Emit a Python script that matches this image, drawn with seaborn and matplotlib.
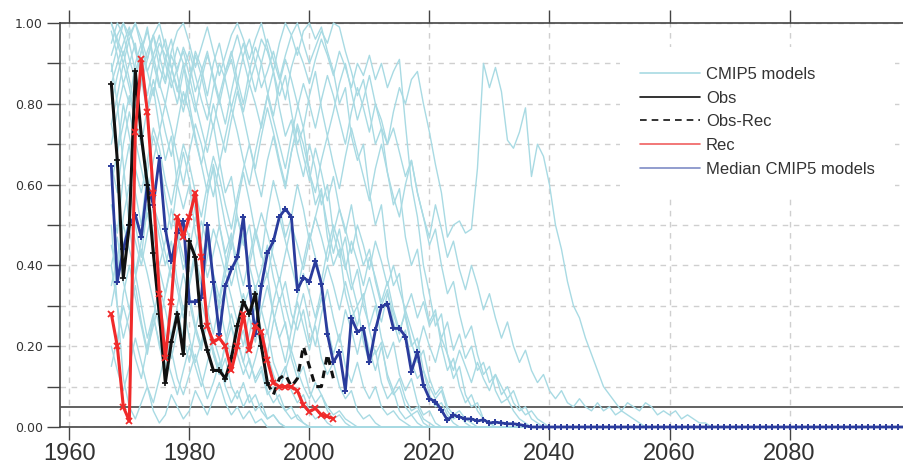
import numpy as np
import pandas as pd
import matplotlib
matplotlib.use("Agg")
import matplotlib.pyplot as plt
import seaborn as sns
from matplotlib.lines import Line2D
from matplotlib.ticker import MultipleLocator, FormatStrFormatter

# ---------------- data ----------------
model_start = 1967
model_end = 2100

m01 = [.92, .97, 1.0, .95, .88, .93, .99, .90, .84, .91, .96, .87, .80,
       .86, .93, .89, .82, .90, .95, .88, .92, .97, .91,
       .85, .90, .96, .93, .88, .95, 1.0, .97, .92, .98,
       1.0, .96, .99, .93, .88, .80, .84, .72, .66, .70,
       .58, .50, .55, .42, .35, .38, .27, .20, .22, .14,
       .10, .07, .09, .04, .02, .03, .01]
m02 = [1.0, .96, .92, .98, .94, .87, .93, .97, .89, .85, .92, .88, .94,
       .90, .83, .88, .93, .86, .80, .87, .91, .84, .78,
       .85, .80, .74, .82, .88, .79, .72, .76, .68, .62,
       .70, .64, .55, .60, .48, .42, .47, .36, .30, .33,
       .24, .18, .21, .12, .08, .10, .05, .03, .04, .01]
m03 = [.85, .90, .95, .99, .93, .88, .82, .90, .95, .92, .86, .80, .88,
       .93, .87, .81, .76, .84, .90, .86, .79, .85, .92,
       .96, .90, .84, .88, .93, .87, .81, .89, .94, .90,
       .85, .91, .96, .92, .87, .93, .89, .84, .90, .87,
       .92, .86, .90, .84, .88, .91, .75, .60, .52, .40,
       .33, .25, .28, .18, .12, .15, .08, .05, .06, .02, .01]
m04 = [.70, .78, .85, .80, .90, .95, .88, .82, .91, .96, .89, .84, .78,
       .85, .92, .87, .80, .74, .82, .88, .93, .86, .80,
       .88, .94, .90, .83, .77, .85, .91, .86, .80, .74,
       .82, .88, .79, .72, .78, .85, .90, .83, .76, .81,
       .87, .80, .74, .70, .78, .84, .80, .86, .88, .80,
       .73, .65, .58, .47, .50, .51, .48, .49, .64, .90,
       .84, .89, .83, .71, .69, .73, .79, .62, .70, .67,
       .60, .50, .44, .36, .30, .27, .22, .18, .14, .10,
       .08, .06, .04, .03, .02, .01]
m05 = [.60, .68, .75, .82, .76, .70, .79, .86, .80, .73, .67, .75, .83,
       .78, .71, .65, .72, .80, .74, .68, .76, .83, .77,
       .70, .64, .72, .79, .73, .66, .60, .68, .75, .70,
       .63, .58, .66, .72, .65, .59, .67, .74, .68, .62,
       .56, .64, .70, .63, .57, .52, .60, .66, .58, .52,
       .47, .55, .49, .42, .46, .39, .34, .40, .35, .29,
       .33, .27, .22, .26, .20, .16, .19, .14, .11, .13,
       .09, .07, .09, .06, .05, .07, .05, .04, .06, .04,
       .05, .03, .04, .06, .05, .04, .06, .05, .03, .04,
       .03, .04, .02, .03, .02, .01, .01]
m06 = [.95, 1.0, .97, .91, .86, .93, .98, .92, .85, .80, .88, .94, .90,
       .84, .78, .86, .92, .87, .81, .75, .83, .90, .95,
       .89, .83, .90, .96, .91, .86, .92, .97, 1.0, .95,
       .90, .94, .98, .95, 1.0, .99, .93, .88, .82, .86,
       .78, .70, .74, .63, .55, .59, .47, .40, .44, .33,
       .26, .29, .20, .14, .17, .10, .06, .08, .04, .02, .01]
m07 = [1.0, .95, .90, .96, 1.0, .94, .88, .92, .97, .90, .84, .89, .93,
       .87, .80, .74, .68, .75, .66, .58, .62, .52, .45,
       .50, .40, .34, .38, .28, .22, .26, .17, .12, .15,
       .09, .06, .08, .04, .02, .03, .01]
m08 = [.98, .92, .85, .90, .95, .86, .78, .84, .74, .66, .72, .60, .54,
       .60, .48, .42, .47, .36, .30, .34, .25, .20, .24,
       .16, .12, .15, .09, .06, .08, .04, .02, .03, .01]
m09 = [.55, .48, .62, .70, .58, .50, .63, .72, .66, .57, .49, .60, .68,
       .61, .53, .46, .57, .65, .58, .50, .44, .55, .63,
       .56, .48, .42, .53, .61, .55, .47, .52, .60, .54,
       .46, .52, .58, .50, .43, .49, .40, .34, .39, .30,
       .25, .30, .22, .17, .21, .13, .09, .12, .06, .03,
       .04, .01]
m10 = [.45, .38, .52, .60, .50, .42, .55, .48, .40, .46, .54, .47, .39,
       .44, .52, .45, .37, .43, .50, .42, .35, .41, .48,
       .40, .34, .39, .45, .37, .31, .36, .28, .24, .29,
       .21, .25, .17, .13, .16, .10, .07, .09, .04, .02,
       .03, .01]
m11 = [.35, .42, .50, .44, .38, .46, .53, .45, .39, .33, .41, .48, .42,
       .36, .44, .51, .45, .38, .32, .40, .47, .41, .35,
       .42, .49, .43, .37, .45, .52, .46, .40, .34, .41,
       .48, .42, .36, .44, .50, .45, .39, .46, .41, .35,
       .42, .37, .31, .36, .29, .24, .28, .21, .16, .19,
       .12, .08, .10, .05, .03, .04, .02, .01]
m12 = [.75, .68, .80, .72, .64, .58, .66, .74, .69, .61, .55, .63, .70,
       .65, .58, .52, .60, .67, .62, .55, .49, .57, .64,
       .70, .63, .57, .66, .72, .65, .59, .68, .74, .67,
       .61, .69, .63, .56, .62, .54, .48, .55, .46, .40,
       .44, .36, .30, .34, .26, .21, .24, .16, .12, .14,
       .08, .05, .06, .03, .01]
m13 = [.30, .38, .45, .52, .46, .40, .48, .55, .50, .43, .37, .44, .51,
       .47, .40, .35, .42, .49, .44, .38, .45, .52, .46,
       .40, .47, .53, .48, .42, .36, .43, .50, .45, .39,
       .46, .52, .47, .41, .48, .54, .49, .43, .50, .45,
       .39, .46, .41, .35, .40, .34, .29, .33, .27, .31,
       .25, .28, .22, .26, .19, .23, .17, .20, .14, .16,
       .11, .13, .08, .10, .06, .04, .05, .02, .01]
m14 = [.40, .30, .22, .28, .35, .26, .19, .25, .31, .23, .17, .24, .30,
       .22, .16, .21, .27, .19, .14, .20, .25, .18, .13,
       .17, .11, .14, .08, .10, .06, .04, .05, .02, .01]
m15 = [.20, .14, .09, .15, .22, .16, .10, .06, .12, .18, .13, .08, .14,
       .20, .15, .10, .16, .22, .17, .11, .15, .21, .16,
       .12, .17, .23, .18, .13, .09, .14, .19, .14, .10,
       .07, .11, .08, .05, .03, .04, .02, .01]
m16 = [.50, .30, .12, .05, .02, .06, .10, .04, .01, .03, .08, .05, .02,
       .04, .09, .06, .03, .07, .11, .06, .03, .05, .02,
       .04, .01, .02]
m17 = [.28, .20, .33, .40, .32, .25, .18, .27, .35, .29, .22, .30, .38,
       .31, .24, .19, .28, .36, .30, .23, .17, .26, .33,
       .27, .21, .29, .35, .28, .22, .16, .24, .31, .25,
       .19, .26, .32, .25, .18, .23, .15, .11, .16, .10,
       .07, .10, .05, .03, .04, .02, .01]
m18 = [.15, .22, .30, .24, .17, .12, .20, .27, .21, .15, .23, .29, .22,
       .16, .24, .31, .25, .18, .13, .21, .28, .22, .16,
       .23, .30, .24, .18, .26, .32, .25, .19, .27, .33,
       .26, .20, .28, .34, .27, .21, .29, .24, .18, .25,
       .19, .14, .20, .13, .09, .12, .07, .04, .05, .02,
       .01]
m19 = [.90, .80, .65, .50, .38, .30, .22, .28, .20, .14, .19, .12, .08,
       .13, .18, .12, .07, .11, .16, .10, .06, .09, .05,
       .08, .04, .06, .02, .03, .01]
m20 = [.75, .82, .90, .84, .76, .70, .62, .55, .47, .40, .46, .36, .29,
       .33, .25, .20, .26, .18, .13, .17, .10, .07, .11,
       .06, .08, .04, .02, .03, .01]
m21 = [.88, .94, 1.0, .97, 1.0, .96, .91, .97, 1.0, .94, .89, .83, .90,
       .80, .72, .65, .58, .64, .50, .43, .48, .37, .30,
       .34, .25, .20, .24, .16, .12, .15, .09, .06, .08,
       .04, .02, .03, .01]
m22 = [.65, .58, .70, .78, .71, .64, .57, .66, .73, .80, .74, .67, .60,
       .68, .75, .70, .63, .57, .65, .72, .79, .73, .66,
       .60, .68, .75, .82, .76, .70, .64, .72, .79, .85,
       .80, .74, .81, .87, .82, .76, .70, .78, .84, .79,
       .73, .80, .76, .70, .74, .68, .62, .66, .58, .52,
       .45, .49, .40, .33, .36, .28, .22, .25, .18, .13,
       .15, .09, .06, .07, .04, .02, .01]
m23 = [.40, .47, .36, .29, .37, .44, .38, .31, .25, .33, .40, .34, .27,
       .35, .42, .36, .29, .23, .31, .38, .32, .26, .20,
       .28, .35, .29, .23, .31, .37, .30, .24, .32, .38,
       .33, .27, .34, .40, .35, .29, .36, .30, .25, .32,
       .37, .31, .26, .33, .28, .23, .29, .24, .19, .25,
       .20, .16, .22, .18, .14, .19, .15, .11, .16, .12,
       .09, .13, .10, .07, .09, .05, .03, .04, .02, .01]
m24 = [.80, .87, .93, .86, .79, .85, .91, .97, .92, .86, .93, .98, 1.0,
       .95, .89, .94, .99, .93, .87, .92, .97, 1.0, .96,
       .91, .96, 1.0, .94, .88, .82, .87, .78, .70, .74,
       .63, .55, .59, .47, .40, .44, .33, .27, .30, .21,
       .16, .19, .11, .07, .09, .04, .02, .03, .01]

obs_start = 1967
obs = [0.85, 0.66, 0.37, 0.50, 0.88, 0.72, 0.60, 0.43, 0.28, 0.11,
       0.21, 0.28, 0.18, 0.46, 0.42, 0.25, 0.19, 0.14, 0.14, 0.12,
       0.17, 0.25, 0.31, 0.28, 0.33, 0.20, 0.11]
obsrec_start = 1993
obs_rec = [0.11, 0.08, 0.12, 0.13, 0.10, 0.12, 0.20, 0.15, 0.10, 0.10,
           0.18, 0.12]
rec_start = 1967
rec = [0.28, 0.20, 0.05, 0.015, 0.73, 0.91, 0.78, 0.58, 0.33, 0.17,
       0.31, 0.52, 0.47, 0.52, 0.58, 0.42, 0.25, 0.21, 0.22, 0.20,
       0.14, 0.20, 0.28, 0.19, 0.25, 0.235, 0.165, 0.11, 0.10, 0.10,
       0.10, 0.09, 0.054, 0.038, 0.046, 0.03, 0.026, 0.021]
median_start = 1967
median_head = [0.645, 0.36, 0.44, 0.50, 0.525, 0.47, 0.60, 0.55, 0.665, 0.49,
               0.41, 0.48, 0.51, 0.31, 0.31, 0.32, 0.50, 0.36, 0.23, 0.35,
               0.39, 0.42, 0.52, 0.35, 0.23, 0.35, 0.43, 0.46, 0.52, 0.54,
               0.52, 0.34, 0.37, 0.36, 0.41, 0.355, 0.23, 0.16, 0.186, 0.09,
               0.27, 0.236, 0.244, 0.16, 0.24, 0.298, 0.305, 0.244, 0.244, 0.224,
               0.137, 0.186, 0.104, 0.07, 0.063, 0.042, 0.017, 0.03, 0.025, 0.02,
               0.02, 0.015, 0.018, 0.01, 0.012, 0.01, 0.008, 0.008, 0.006, 0.003]

legend_labels = ["CMIP5 models", "Obs", "Obs-Rec", "Rec", "Median CMIP5 models"]
xticks = [1960, 1980, 2000, 2020, 2040, 2060, 2080]

# ---------------- assemble ----------------
model_years = np.arange(model_start, model_end + 1)
n_years = len(model_years)
model_lists = [m01, m02, m03, m04, m05, m06, m07, m08, m09, m10, m11, m12,
               m13, m14, m15, m16, m17, m18, m19, m20, m21, m22, m23, m24]
frames = []
for i, vals in enumerate(model_lists):
    full = list(vals) + [0.0] * (n_years - len(vals))
    frames.append(pd.DataFrame({"year": model_years, "value": full, "model": i}))
df_models = pd.concat(frames, ignore_index=True)

median = list(median_head) + [0.0] * (n_years - len(median_head))
df_median = pd.DataFrame({"year": model_years, "value": median})
df_obs = pd.DataFrame({"year": np.arange(obs_start, obs_start + len(obs)), "value": obs})
df_obsrec = pd.DataFrame({"year": np.arange(obsrec_start, obsrec_start + len(obs_rec)), "value": obs_rec})
df_rec = pd.DataFrame({"year": np.arange(rec_start, rec_start + len(rec)), "value": rec})

# ---------------- style ----------------
sns.set_theme(style="white")
plt.rcParams["font.family"] = ["Liberation Sans", "DejaVu Sans"]

CYAN = "#a8dae3"
BLUE = "#2a3b9c"
RED = "#f02a2a"
AXC = "#444444"

fig = plt.figure(figsize=(9.04, 4.66), dpi=100)
ax = fig.add_axes([60 / 904, 39 / 466, 843 / 904, 404 / 466])

sns.lineplot(data=df_models, x="year", y="value", units="model", estimator=None,
             color=CYAN, linewidth=1.0, ax=ax, legend=False, zorder=3, clip_on=False)
ax.axhline(0.05, color="#555555", lw=1.3, zorder=2.6)
sns.lineplot(data=df_median, x="year", y="value", color=BLUE, linewidth=2.0,
             marker="+", markersize=5, markeredgewidth=1.4, markeredgecolor=BLUE,
             ax=ax, legend=False, zorder=5, clip_on=False)
sns.lineplot(data=df_obs, x="year", y="value", color="#111111", linewidth=2.2,
             marker="+", markersize=4, markeredgewidth=1.2, markeredgecolor="#111111",
             ax=ax, legend=False, zorder=6)
sns.lineplot(data=df_obsrec, x="year", y="value", color="#111111", linewidth=2.2,
             linestyle=(0, (2.5, 2)), ax=ax, legend=False, zorder=6)
sns.lineplot(data=df_rec, x="year", y="value", color=RED, linewidth=2.2,
             marker="x", markersize=4, markeredgewidth=1.3, markeredgecolor=RED,
             ax=ax, legend=False, zorder=7)

ax.set_xlim(1958.45, 2098.9)
ax.set_ylim(0, 1.0)
ax.set_xticks(xticks)
ax.set_xticklabels([str(t) for t in xticks])
ax.yaxis.set_major_locator(MultipleLocator(0.2))
ax.yaxis.set_minor_locator(MultipleLocator(0.1))
ax.yaxis.set_major_formatter(FormatStrFormatter("%.2f"))
ax.set_xlabel("")
ax.set_ylabel("")

ax.grid(True, which="major", axis="x", color="#cfcfcf", lw=1.0, ls=(0, (4, 4)))
ax.grid(True, which="both", axis="y", color="#cfcfcf", lw=1.0, ls=(0, (4, 4)))
ax.set_axisbelow(True)

for side in ["left", "top", "bottom"]:
    ax.spines[side].set_visible(True)
    ax.spines[side].set_color(AXC)
    ax.spines[side].set_linewidth(1.2)
ax.spines["right"].set_visible(False)

ax.tick_params(axis="x", which="major", direction="out", length=9.4, width=1.0,
               color=AXC, top=True, bottom=True, labeltop=False, pad=2,
               labelsize=17, labelcolor="#333333")
ax.tick_params(axis="y", which="both", direction="out", length=9.4, width=1.0,
               color=AXC, left=True, right=False, pad=3)
ax.tick_params(axis="y", which="major", labelsize=9, labelcolor="#333333")
for lab in ax.get_yticklabels():
    lab.set_family(["DejaVu Sans"])

handles = [
    Line2D([], [], color=CYAN, lw=1.2),
    Line2D([], [], color="#111111", lw=1.2),
    Line2D([], [], color="#111111", lw=1.2, ls=(0, (4, 3))),
    Line2D([], [], color="#f06060", lw=1.2),
    Line2D([], [], color="#7f8cc6", lw=1.2),
]
leg = ax.legend(handles, legend_labels, loc="upper left",
                bbox_to_anchor=((620 - 60) / 843, (427 - 47) / 404),
                frameon=True, facecolor="white", edgecolor="none", framealpha=1,
                fancybox=False, borderpad=1.2, fontsize=12, handlelength=3.6,
                handletextpad=0.35, labelspacing=0.52, borderaxespad=0)
leg.set_zorder(10)
for t in leg.get_texts():
    t.set_color("#333333")

fig.savefig("out.png", dpi=100)
